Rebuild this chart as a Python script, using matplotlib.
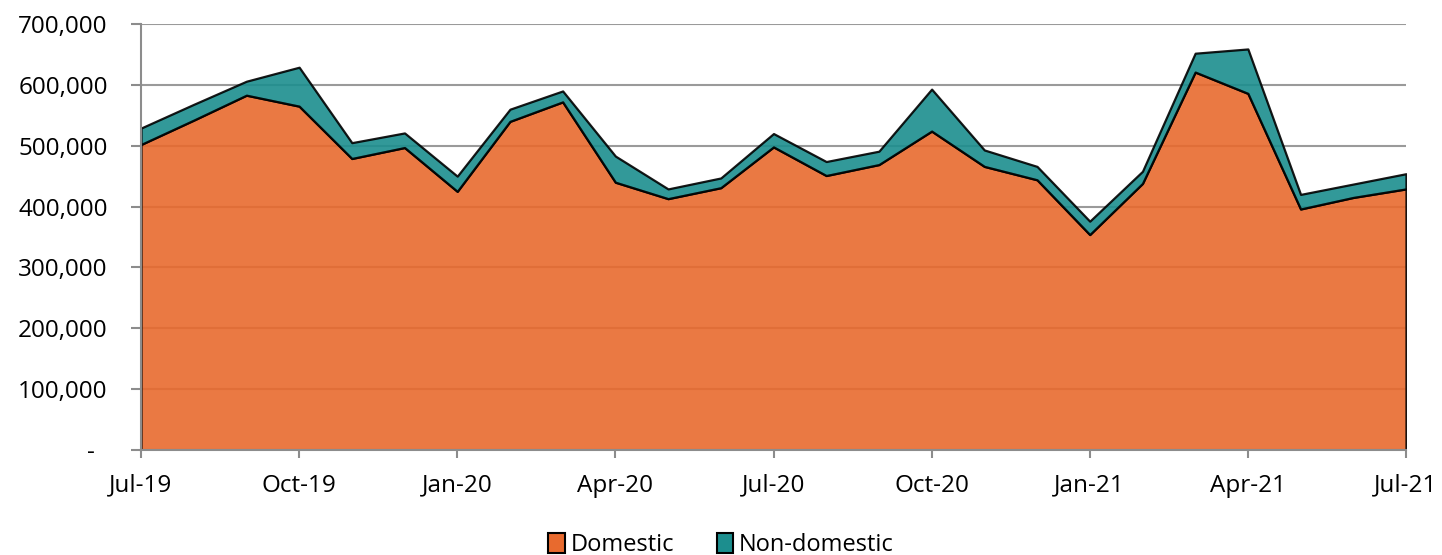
import matplotlib.pyplot as plt
import numpy as np
from matplotlib.patches import Patch
from matplotlib.ticker import FuncFormatter

plt.rcParams['font.family'] = ['Open Sans', 'DejaVu Sans']

#  Monthly values, Jul-19 .. Jul-21
months = ["Jul-19", "Aug-19", "Sep-19", "Oct-19", "Nov-19", "Dec-19",
          "Jan-20", "Feb-20", "Mar-20", "Apr-20", "May-20", "Jun-20",
          "Jul-20", "Aug-20", "Sep-20", "Oct-20", "Nov-20", "Dec-20",
          "Jan-21", "Feb-21", "Mar-21", "Apr-21", "May-21", "Jun-21",
          "Jul-21"]
domestic = [502000, 542000, 583000, 565000, 479000, 497000,
            425000, 540000, 572000, 440000, 413000, 431000,
            498000, 451000, 469000, 524000, 466000, 444000,
            354000, 438000, 621000, 586000, 396000, 415000,
            429000]
total = [529000, 568000, 606000, 629000, 505000, 521000,
         450000, 560000, 590000, 483000, 429000, 447000,
         520000, 474000, 491000, 593000, 493000, 466000,
         376000, 458000, 652000, 659000, 420000, 437000,
         454000]
non_domestic = [t - d for t, d in zip(total, domestic)]

tick_labels = ["Jul-19", "Oct-19", "Jan-20", "Apr-20", "Jul-20",
               "Oct-20", "Jan-21", "Apr-21", "Jul-21"]

orange = "#e86a2e"
teal = "#1c8e8e"

x = np.arange(len(months))
dom = np.array(domestic)
top = dom + np.array(non_domestic)

fig = plt.figure(figsize=(14.42, 5.55), dpi=100)
ax = fig.add_axes([141 / 1442, 105 / 555, 1265 / 1442, 426 / 555])

ax.grid(axis="y", color="#9a9a9a", linewidth=1.5, zorder=0)
ax.fill_between(x, 0, dom, facecolor=orange, alpha=0.9,
                edgecolor="black", linewidth=1.6, zorder=2)
ax.fill_between(x, dom, top, facecolor=teal, alpha=0.9,
                edgecolor="black", linewidth=1.6, zorder=2)

ax.set_xlim(0, len(months) - 1)
ax.set_ylim(0, 700000)
ax.set_yticks(np.arange(0, 700001, 100000))
ax.yaxis.set_major_formatter(
    FuncFormatter(lambda v, p: "-  " if v == 0 else f"{v:,.0f}"))
ax.set_xticks(x[::3])
ax.set_xticklabels(tick_labels)

for side in ("top", "right"):
    ax.spines[side].set_visible(False)
for side in ("left", "bottom"):
    ax.spines[side].set_color("#8c8c8c")
    ax.spines[side].set_linewidth(1.5)
    ax.spines[side].set_zorder(3)
ax.tick_params(axis="y", length=7, width=1.5, color="#8c8c8c",
               labelsize=17.5, pad=17)
ax.tick_params(axis="x", length=6, width=1.5, color="#8c8c8c",
               labelsize=17.5, pad=11)

handles = [Patch(facecolor=orange, edgecolor="black", linewidth=1.5, label="Domestic"),
           Patch(facecolor=teal, edgecolor="black", linewidth=1.5, label="Non-domestic")]
fig.legend(handles=handles, loc="center", bbox_to_anchor=(0.5, 1 - 545 / 555),
           ncol=2, frameon=False, fontsize=17, handlelength=0.7,
           handleheight=0.9, handletextpad=0.25, columnspacing=1.8)

fig.savefig("out.png", dpi=100)
